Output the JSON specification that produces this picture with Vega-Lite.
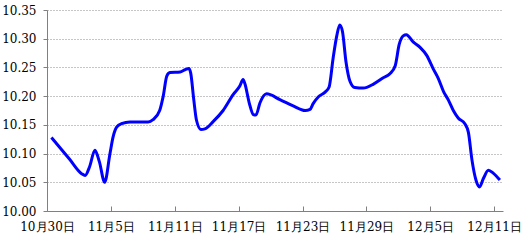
{
  "$schema": "https://vega.github.io/schema/vega-lite/v6.json",
  "width": 456,
  "height": 201,
  "autosize": {"type": "none"},
  "padding": {"left": 47, "top": 10, "right": 26, "bottom": 30},
  "background": "white",
  "config": {
    "view": {"stroke": null},
    "font": "DejaVu Serif"
  },
  "data": {
    "values": [
      {"t": "2023-10-30T10:00", "v": 10.128},
      {"t": "2023-11-01T03:00", "v": 10.090},
      {"t": "2023-11-02T06:00", "v": 10.065},
      {"t": "2023-11-02T14:00", "v": 10.062},
      {"t": "2023-11-03T00:00", "v": 10.077},
      {"t": "2023-11-03T12:00", "v": 10.106},
      {"t": "2023-11-03T22:00", "v": 10.086},
      {"t": "2023-11-04T10:00", "v": 10.050},
      {"t": "2023-11-04T22:00", "v": 10.100},
      {"t": "2023-11-05T05:00", "v": 10.129},
      {"t": "2023-11-05T13:00", "v": 10.146},
      {"t": "2023-11-06T00:00", "v": 10.152},
      {"t": "2023-11-06T19:00", "v": 10.155},
      {"t": "2023-11-08T12:00", "v": 10.155},
      {"t": "2023-11-08T23:00", "v": 10.159},
      {"t": "2023-11-09T14:00", "v": 10.175},
      {"t": "2023-11-09T22:00", "v": 10.200},
      {"t": "2023-11-10T06:00", "v": 10.235},
      {"t": "2023-11-10T13:00", "v": 10.241},
      {"t": "2023-11-11T12:00", "v": 10.242},
      {"t": "2023-11-11T23:00", "v": 10.246},
      {"t": "2023-11-12T08:00", "v": 10.248},
      {"t": "2023-11-12T12:00", "v": 10.240},
      {"t": "2023-11-12T19:00", "v": 10.193},
      {"t": "2023-11-13T01:00", "v": 10.158},
      {"t": "2023-11-13T11:00", "v": 10.142},
      {"t": "2023-11-13T20:00", "v": 10.143},
      {"t": "2023-11-14T15:00", "v": 10.156},
      {"t": "2023-11-15T13:00", "v": 10.175},
      {"t": "2023-11-16T12:00", "v": 10.203},
      {"t": "2023-11-17T03:00", "v": 10.218},
      {"t": "2023-11-17T10:00", "v": 10.229},
      {"t": "2023-11-17T14:00", "v": 10.222},
      {"t": "2023-11-18T00:00", "v": 10.188},
      {"t": "2023-11-18T09:00", "v": 10.168},
      {"t": "2023-11-18T15:00", "v": 10.167},
      {"t": "2023-11-19T00:00", "v": 10.188},
      {"t": "2023-11-19T15:00", "v": 10.204},
      {"t": "2023-11-20T21:00", "v": 10.194},
      {"t": "2023-11-22T03:00", "v": 10.183},
      {"t": "2023-11-23T06:00", "v": 10.175},
      {"t": "2023-11-23T17:00", "v": 10.177},
      {"t": "2023-11-24T00:00", "v": 10.187},
      {"t": "2023-11-24T12:00", "v": 10.199},
      {"t": "2023-11-25T03:00", "v": 10.207},
      {"t": "2023-11-25T12:00", "v": 10.216},
      {"t": "2023-11-25T21:00", "v": 10.266},
      {"t": "2023-11-26T05:00", "v": 10.304},
      {"t": "2023-11-26T12:00", "v": 10.324},
      {"t": "2023-11-26T18:00", "v": 10.313},
      {"t": "2023-11-27T02:00", "v": 10.260},
      {"t": "2023-11-27T11:00", "v": 10.226},
      {"t": "2023-11-27T22:00", "v": 10.215},
      {"t": "2023-11-28T17:00", "v": 10.214},
      {"t": "2023-11-29T16:00", "v": 10.221},
      {"t": "2023-11-30T14:00", "v": 10.232},
      {"t": "2023-12-01T05:00", "v": 10.239},
      {"t": "2023-12-01T17:00", "v": 10.253},
      {"t": "2023-12-02T02:00", "v": 10.290},
      {"t": "2023-12-02T11:00", "v": 10.305},
      {"t": "2023-12-02T18:00", "v": 10.307},
      {"t": "2023-12-03T10:00", "v": 10.294},
      {"t": "2023-12-04T01:00", "v": 10.285},
      {"t": "2023-12-04T16:00", "v": 10.271},
      {"t": "2023-12-05T07:00", "v": 10.247},
      {"t": "2023-12-05T18:00", "v": 10.231},
      {"t": "2023-12-06T06:00", "v": 10.208},
      {"t": "2023-12-06T17:00", "v": 10.193},
      {"t": "2023-12-07T04:00", "v": 10.175},
      {"t": "2023-12-07T15:00", "v": 10.162},
      {"t": "2023-12-08T06:00", "v": 10.152},
      {"t": "2023-12-08T14:00", "v": 10.137},
      {"t": "2023-12-08T22:00", "v": 10.089},
      {"t": "2023-12-09T07:00", "v": 10.054},
      {"t": "2023-12-09T15:00", "v": 10.042},
      {"t": "2023-12-10T00:00", "v": 10.057},
      {"t": "2023-12-10T11:00", "v": 10.071},
      {"t": "2023-12-10T22:00", "v": 10.066},
      {"t": "2023-12-11T13:00", "v": 10.054}
    ]
  },
  "mark": {"type": "line", "color": "#0000FF", "strokeWidth": 3, "interpolate": "monotone", "clip": false},
  "encoding": {
    "x": {
      "field": "t",
      "type": "temporal",
      "scale": {
        "domain": [
          {"year": 2023, "month": "Oct", "date": 30},
          {"year": 2023, "month": "Dec", "date": 11, "hours": 20}
        ],
        "nice": false
      },
      "axis": {
        "title": null,
        "values": [
          {"year": 2023, "month": "Oct", "date": 30},
          {"year": 2023, "month": "Nov", "date": 5},
          {"year": 2023, "month": "Nov", "date": 11},
          {"year": 2023, "month": "Nov", "date": 17},
          {"year": 2023, "month": "Nov", "date": 23},
          {"year": 2023, "month": "Nov", "date": 29},
          {"year": 2023, "month": "Dec", "date": 5},
          {"year": 2023, "month": "Dec", "date": 11}
        ],
        "format": "%-m月%-d日",
        "grid": false,
        "domainColor": "#808080",
        "domainWidth": 1,
        "tickColor": "#808080",
        "tickSize": -5,
        "labelPadding": 15,
        "labelFontSize": 12,
        "labelColor": "#000000",
        "labelFont": "DejaVu Serif",
        "labelFlush": false,
        "labelOverlap": false
      }
    },
    "y": {
      "field": "v",
      "type": "quantitative",
      "scale": {"domain": [10.0, 10.35], "nice": false, "zero": false},
      "axis": {
        "title": null,
        "values": [10.0, 10.05, 10.1, 10.15, 10.2, 10.25, 10.3, 10.35],
        "format": ".2f",
        "ticks": true,
        "tickSize": 4,
        "tickColor": "#808080",
        "grid": true,
        "gridColor": "#8c8c8c",
        "gridDash": [1, 2],
        "gridWidth": 1,
        "domainColor": "#808080",
        "domainWidth": 1,
        "labelPadding": 7,
        "labelFontSize": 12,
        "labelColor": "#000000",
        "labelFont": "DejaVu Serif",
        "labelFlush": false,
        "labelOverlap": false
      }
    }
  }
}
